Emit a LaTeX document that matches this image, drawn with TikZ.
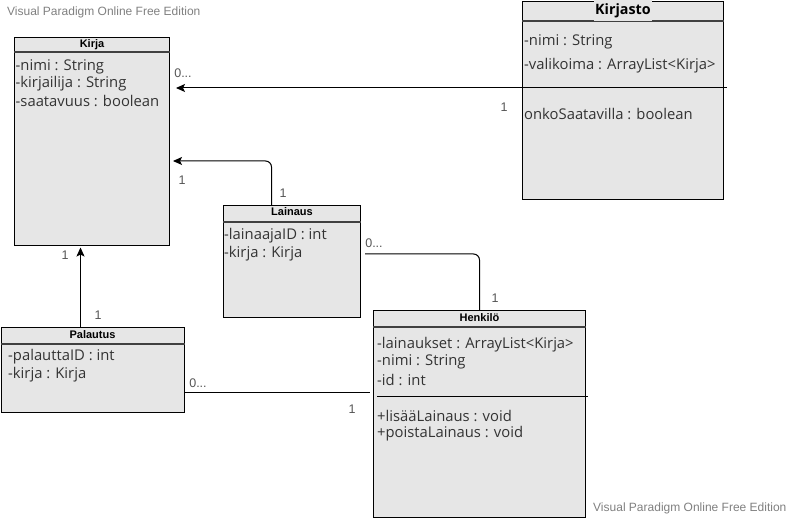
\documentclass[tikz,border=0pt]{standalone}
\usepackage{fontspec}
\setmainfont{Open Sans}
\newfontfamily\arialf{Liberation Sans}
\usetikzlibrary{arrows.meta}
\definecolor{boxfill}{HTML}{E6E6E6}
\definecolor{attrc}{HTML}{333333}
\definecolor{labc}{HTML}{555555}
\definecolor{wmc}{HTML}{808080}
\begin{document}
\begin{tikzpicture}[x=1pt,y=-1pt,
  cls/.style={draw=black, line width=1pt, fill=boxfill, inner sep=0pt, anchor=north west},
  hdr/.style={draw=black!75, line width=1.2pt},
  ttl/.style={font=\arialf\bfseries\fontsize{11}{13}\selectfont, inner sep=0pt},
  bigttl/.style={font=\bfseries\fontsize{14.3}{16}\selectfont, fill=boxfill, inner xsep=1.5pt, inner ysep=0pt, minimum height=21pt},
  attr/.style={font=\fontsize{14.8}{17}\selectfont, text=attrc, anchor=west, inner sep=0pt},
  mult/.style={font=\arialf\fontsize{12.5}{14}\selectfont, text=labc, inner sep=0pt},
  wm/.style={font=\arialf\fontsize{12}{14}\selectfont, text=wmc, inner sep=0pt, anchor=west},
  conn/.style={line width=1pt, draw=black},
  arr/.style={conn, -{Stealth[length=9pt,width=8pt,inset=2pt]}}]
\useasboundingbox (0,0) rectangle (792,518);

% boxes
\node[cls, minimum width=155pt, minimum height=208pt] (kirja) at (14,37) {};
\node[cls, minimum width=201pt, minimum height=198pt] (kirjasto) at (522,1) {};
\node[cls, minimum width=137pt, minimum height=112pt] (lainaus) at (223,205) {};
\node[cls, minimum width=212pt, minimum height=207pt] (henkilo) at (373,310) {};
\node[cls, minimum width=183pt, minimum height=85pt] (palautus) at (0.5,327) {};

% header lines
\draw[hdr] ([yshift=-15pt]kirja.north west) -- ([yshift=-15pt]kirja.north east);
\draw[hdr] ([yshift=-20pt]kirjasto.north west) -- ([yshift=-20pt]kirjasto.north east);
\draw[hdr] ([yshift=-17pt]lainaus.north west) -- ([yshift=-17pt]lainaus.north east);
\draw[hdr] ([yshift=-17pt]henkilo.north west) -- ([yshift=-17pt]henkilo.north east);
\draw[hdr] ([yshift=-17pt]palautus.north west) -- ([yshift=-17pt]palautus.north east);

% separators
\draw[conn] ([yshift=-87pt]kirjasto.north west) -- ([xshift=3pt,yshift=-87pt]kirjasto.north east);
\draw[conn] ([xshift=4pt,yshift=-86pt]henkilo.north west) -- ([xshift=2pt,yshift=-86pt]henkilo.north east);

% titles
\node[ttl] (kirjaT) at ([yshift=-7.5pt]kirja.north) {Kirja};
\node[bigttl] (kirjastoT) at ([yshift=-10pt]kirjasto.north) {Kirjasto};
\node[ttl] (lainausT) at ([yshift=-7pt]lainaus.north) {Lainaus};
\node[ttl] (henkiloT) at ([yshift=-8pt]henkilo.north) {Henkilö};
\node[ttl] (palautusT) at ([yshift=-8pt]palautus.north) {Palautus};

% attributes
\node[attr] (k1) at (15.5,66.5) {-nimi : String};
\node[attr] (k2) at (15.5,84) {-kirjailija : String};
\node[attr] (k3) at (15.5,101) {-saatavuus : boolean};

\node[attr] (ks1) at (524,42) {-nimi : String};
\node[attr] (ks2) at (524,65.5) {-valikoima : ArrayList<Kirja>};
\node[attr] (ks3) at (524,113.5) {onkoSaatavilla : boolean};

\node[attr] (l1) at (224,236) {-lainaajaID : int};
\node[attr] (l2) at (224,253.5) {-kirja : Kirja};

\node[attr] (h1) at (377,344.5) {-lainaukset : ArrayList<Kirja>};
\node[attr] (h2) at (377,362) {-nimi : String};
\node[attr] (h3) at (377,380) {-id : int};
\node[attr] (h4) at (377,416) {+lisääLainaus : void};
\node[attr] (h5) at (377,434) {+poistaLainaus : void};

\node[attr] (p1) at (8,356.5) {-palauttaID : int};
\node[attr] (p2) at (8,375) {-kirja : Kirja};

% connectors
\draw[arr, shorten >=6pt] ([yshift=-87pt]kirjasto.north west) -- ([yshift=-87pt]kirjasto.north west -| kirja.east);
\draw[arr, rounded corners=6pt, shorten >=3pt] ([xshift=-20.5pt]lainaus.north) |- ([yshift=-124pt]kirja.north east);
\draw[arr, shorten >=1.5pt] ([xshift=-12pt]palautus.north) -- ([xshift=-12pt]palautus.north |- kirja.south);
\draw[conn, rounded corners=6pt] ([xshift=4pt,yshift=-49pt]lainaus.north east) -| (henkilo.north);
\draw[conn, shorten >=3.5pt] ([yshift=-65pt]palautus.north east) -- ([yshift=-65pt]palautus.north east -| henkilo.west);

% multiplicities
\node[mult] (m1) at (183,73) {0...};
\node[mult] (m2) at (504,107) {1};
\node[mult] (m3) at (182,180) {1};
\node[mult] (m4) at (283,193) {1};
\node[mult] (m5) at (374,243) {0...};
\node[mult] (m6) at (495,298) {1};
\node[mult] (m7) at (65,255) {1};
\node[mult] (m8) at (98,315) {1};
\node[mult] (m9) at (198,383) {0...};
\node[mult] (m10) at (352,409) {1};

% watermarks
\node[wm] (wm1) at (7,12) {Visual Paradigm Online Free Edition};
\node[wm] (wm2) at (593,508) {Visual Paradigm Online Free Edition};
\end{tikzpicture}
\end{document}
